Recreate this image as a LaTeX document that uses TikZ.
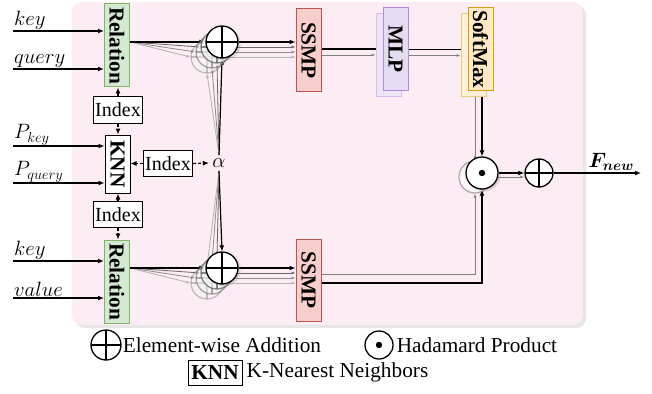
\documentclass[tikz,border=0pt]{standalone}
\usepackage{amsmath,amsfonts}
\usepackage{graphicx}
\usepackage[no-math]{fontspec}
\setmainfont{Liberation Serif}
\usetikzlibrary{arrows.meta,shadows,positioning}

\definecolor{bgpink}{RGB}{252,236,243}
\definecolor{relfill}{RGB}{213,232,212}
\definecolor{reldraw}{RGB}{130,179,102}
\definecolor{ssmpfill}{RGB}{248,206,204}
\definecolor{ssmpdraw}{RGB}{184,84,80}
\definecolor{mlpfill}{RGB}{228,220,240}
\definecolor{mlpdraw}{RGB}{180,135,220}
\definecolor{smfill}{RGB}{255,232,196}
\definecolor{smdraw}{RGB}{215,160,20}

\newcommand{\dfont}{\fontsize{21.3}{25}\selectfont}
\newcommand{\ifont}{\fontsize{20}{24}\selectfont}
\newcommand{\vt}[1]{\rotatebox{-90}{#1}}

\pgfdeclarelayer{back}
\pgfdeclarelayer{mid}
\pgfsetlayers{back,mid,main}

\tikzset{
  blk/.style={draw, minimum width=25pt, minimum height=83pt, inner sep=0pt, line width=1pt, font=\dfont\bfseries},
  idx/.style={draw, fill=white, line width=1pt, inner sep=1.5pt, minimum height=26pt, font=\ifont},
  plusc/.style={circle, draw, fill=white, minimum size=32pt, inner sep=0pt, line width=1.3pt,
    path picture={\draw[line width=1.3pt] (path picture bounding box.north) -- (path picture bounding box.south)
      (path picture bounding box.west) -- (path picture bounding box.east);}},
  dotc/.style={circle, draw, fill=white, minimum size=32pt, inner sep=0pt, line width=1.3pt,
    path picture={\fill[black] (path picture bounding box.center) circle (3.2pt);}},
  ln/.style={->, line width=1.2pt},
  gln/.style={-{Latex[length=4pt,width=3pt]}, line width=.8pt},
  dln/.style={->, line width=1.1pt, dash pattern=on 3pt off 2pt},
  lbl/.style={anchor=south west, inner sep=1pt, font=\ifont},
}

\begin{document}
\begin{tikzpicture}[x=1pt, y=-1pt, font=\dfont, >={Latex[length=6pt,width=5pt]}]
\useasboundingbox (0,0) rectangle (652,393);

\begin{pgfonlayer}{back}
\path[fill=bgpink, rounded corners=10pt, drop shadow={opacity=.2, shadow xshift=3pt, shadow yshift=-3pt}] (72,2) rectangle (583,325);
\end{pgfonlayer}

% relation / knn / index
\node[blk, fill=relfill, draw=reldraw] (relT) at (117,45.5) {\vt{Relation}};
\node[blk, fill=relfill, draw=reldraw] (relB) at (117,281.5) {\vt{Relation}};
\node[blk, fill=white, minimum height=58pt] (knn) at (117.5,164) {\vt{KNN}};
\node[idx] (idxT) at (118,110) {Index};
\node[idx] (idxM) at (168,163.5) {Index};
\node[idx] (idxB) at (118,214.5) {Index};
\node (alpha) at (219,163) {$\alpha$};

% inputs
\coordinate (inK) at (13,31);
\coordinate (inQ) at (13,69);
\coordinate (inPK) at (13,146);
\coordinate (inPQ) at (13,183);
\coordinate (inK2) at (13,261);
\coordinate (inV) at (13,298);
\node[lbl] (lK) at (inK) {$key$};
\node[lbl] (lQ) at (inQ) {$query$};
\node[lbl] (lPK) at (inPK) {$P_{key}$};
\node[lbl] (lPQ) at (inPQ) {$P_{query}$};
\node[lbl] (lK2) at (inK2) {$key$};
\node[lbl] (lV) at (inV) {$value$};

% stacked additions
\foreach \k/\op in {3/.3,2/.45,1/.65}{
  \node[plusc, opacity=\op, draw=black!70, fill=black!4] (pT\k) at (222-5*\k, 42+5*\k) {};
  \node[plusc, opacity=\op, draw=black!70, fill=black!4] (pB\k) at (222-5*\k, 268+5*\k) {};
}
\node[plusc, circular drop shadow={opacity=.3}] (pT) at (222,42) {};
\node[plusc, circular drop shadow={opacity=.3}] (pB) at (222,268) {};

% blocks on the right
\node[blk, fill=ssmpfill, draw=ssmpdraw] (ssT) at (308.5,50.5) {\vt{SSMP}};
\node[blk, fill=ssmpfill, draw=ssmpdraw, minimum height=82pt] (ssB) at (308.5,280) {\vt{SSMP}};
\node[blk, fill=mlpfill!70, draw=mlpdraw!55] (mlpS) at (388.5,55) {};
\node[blk, fill=mlpfill, draw=mlpdraw] (mlp) at (395.5,49) {\vt{MLP}};
\node[blk, fill=smfill!70, draw=smdraw!55] (smS) at (473.5,55.5) {};
\node[blk, fill=smfill, draw=smdraw] (sm) at (480.5,49.5) {\vt{SoftMax}};

% product and sum
\node[dotc, opacity=.5, draw=black!60] (hd1) at (475,177) {};
\node[dotc, circular drop shadow={opacity=.3}] (hd) at (482,173) {};
\node[plusc, minimum size=28pt] (p2) at (539,173) {};
\coordinate (out) at (641,173);

% legend
\node[plusc, minimum size=30pt] (lgp) at (106,345) {};
\node[right=0pt of lgp, inner sep=1pt] (lgpt) {Element-wise Addition};
\node[dotc, minimum size=28pt] (lgh) at (379,345) {};
\node[right=2pt of lgh, inner sep=1pt] (lght) {Hadamard Product};
\node[draw, line width=1pt, minimum width=54pt, minimum height=25pt, inner sep=1pt, font=\dfont\bfseries] (lgk) at (215,372.5) {KNN};
\node[right=3pt of lgk, inner sep=1pt] (lgkt) {K-Nearest Neighbors};

\begin{pgfonlayer}{mid}
\draw[ln] (inK) -- (inK -| relT.west);
\draw[ln] (inQ) -- (inQ -| relT.west);
\draw[ln] (inPK) -- (inPK -| knn.west);
\draw[ln] (inPQ) -- (inPQ -| knn.west);
\draw[ln] (inK2) -- (inK2 -| relB.west);
\draw[ln] (inV) -- (inV -| relB.west);

\draw[dln] (idxT.north) -- (idxT.north |- relT.south);
\draw[dln] (idxT.south) -- (idxT.south |- knn.north);
\draw[dln] (idxB.north) -- (idxB.north |- knn.south);
\draw[dln] (idxB.south) -- (idxB.south |- relB.north);
\draw[dln] (idxM.west) -- (idxM.west -| knn.east);
\draw[dln] (idxM.east) -- (alpha.west);

\coordinate (rT) at (relT.east |- pT.west);
\coordinate (rB) at (relB.east |- pB.west);
\foreach \k/\c in {1/60,2/45,3/30}{
  \draw[gln, black!\c] (rT) -- (pT\k.west);
  \draw[gln, black!\c] (alpha.north) -- (pT\k.south);
  \draw[gln, black!\c] (pT\k.east) -- (pT\k.east -| ssT.west);
  \draw[gln, black!\c] (rB) -- (pB\k.west);
  \draw[gln, black!\c] (alpha.south) -- (pB\k.north);
  \draw[gln, black!\c] (pB\k.east) -- (pB\k.east -| ssB.west);
}
\draw[ln] (rT) -- (pT.west);
\draw[ln] (alpha.north) -- (pT.south);
\draw[ln] (pT.east) -- (pT.east -| ssT.west);
\draw[ln] (rB) -- (pB.west);
\draw[ln] (alpha.south) -- (pB.north);
\draw[ln] (pB.east) -- (pB.east -| ssB.west);

\draw[ln] (ssT.east |- mlp.west) -- (mlp.west);
\draw[gln, black!50] (ssT.east |- mlpS.west) -- (mlpS.west);
\draw[ln] (mlp.east |- sm.west) -- (sm.west);
\draw[gln, black!50] (mlpS.east |- smS.west) -- (smS.west);

\draw[ln] (sm.south -| hd.north) -- (hd.north);
\draw[gln, black!50] (smS.south -| hd1.north) -- (hd1.north);
\draw[ln] ([yshift=-3pt]ssB.east) -| (hd.south);
\draw[gln, black!50] ([yshift=6pt]ssB.east) -| (hd1.south);

\draw[ln] (hd.east) -- (p2.west);
\draw[gln, black!50] (hd1.east) -- (hd1.east -| p2.west);
\draw[ln] (p2.east) -- node[pos=.66, above, inner sep=2pt] (fnew) {$\boldsymbol{F_{new}}$} (out);
\end{pgfonlayer}
\end{tikzpicture}
\end{document}
